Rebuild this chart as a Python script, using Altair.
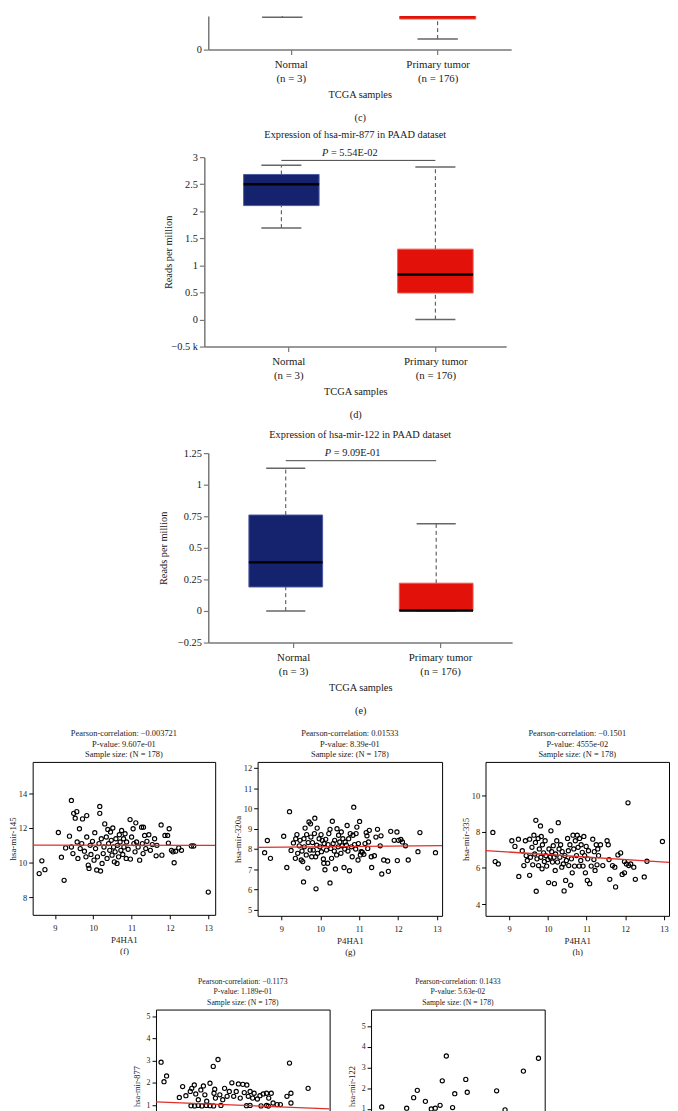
import json
import altair as alt
import pandas as pd

FONT = "Liberation Serif"
TXT = "#1a1a1a"
RED = "#e0302a"

# ---------------- box-plot data ----------------
groups = ["Normal", "Primary tumor"]
group_n = ["(n = 3)", "(n = 176)"]
box_fill = ["#15236e", "#e2120a"]
box_line = ["#4b5a9e", "#f0574c"]

# panel (c) - only lower part visible
c_lower = [76, 25]
c_q1 = [118, 72]
c_med = [140, 98]
c_q3 = [160, 130]
c_upper = [185, 210]

# panel (d) hsa-mir-877
d_lower = [1.69, 0.0]
d_q1 = [2.105, 0.49]
d_med = [2.50, 0.83]
d_q3 = [2.68, 1.30]
d_upper = [2.85, 2.82]
d_title = "Expression of hsa-mir-877 in PAAD dataset"
d_p = "5.54E-02"

# panel (e) hsa-mir-122
e_lower = [0.0, 0.0]
e_q1 = [0.19, 0.0]
e_med = [0.385, 0.004]
e_q3 = [0.76, 0.22]
e_upper = [1.13, 0.69]
e_title = "Expression of hsa-mir-122 in PAAD dataset"
e_p = "9.09E-01"

# ---------------- scatter data ----------------
f_x = [8.59, 8.66, 8.74, 9.09, 9.17, 9.24, 9.28, 9.38, 9.43, 9.43, 9.47, 9.49, 9.53, 9.57, 9.60, 9.58,
       9.64, 9.66, 9.72, 9.70, 9.77, 9.81, 9.83, 9.83, 9.87, 9.89, 9.92, 9.94, 9.98, 10.02, 10.04, 10.06,
       10.09, 10.11, 10.15, 10.17, 10.17, 10.19, 10.21, 10.23, 10.26, 10.28, 10.30, 10.34, 10.36, 10.38,
       10.40, 10.43, 10.45, 10.47, 10.49, 10.51, 10.53, 10.55, 10.57, 10.59, 10.62, 10.63, 10.66, 10.68,
       10.70, 10.72, 10.74, 10.77, 10.79, 10.80, 10.83, 10.86, 10.87, 10.91, 10.96, 10.97, 11.00, 11.04,
       11.06, 11.09, 11.11, 11.13, 11.17, 11.21, 11.26, 11.28, 11.30, 11.31, 11.34, 11.37, 11.40, 11.45,
       11.49, 11.54, 11.60, 11.64, 11.66, 11.77, 11.79, 11.87, 11.94, 11.98, 11.96, 12.04, 12.08, 12.11,
       12.15, 12.23, 12.30, 12.56, 12.62, 13.00]
f_y = [9.36, 10.10, 9.59, 11.74, 10.31, 8.97, 10.85, 11.53, 13.60, 10.90, 10.52, 12.85, 12.57, 12.95, 10.24, 11.19,
       11.96, 10.81, 12.53, 11.10, 10.66, 10.33, 12.72, 11.48, 9.85, 9.66, 11.00, 10.47, 11.23, 10.14, 11.73, 10.81,
       9.57, 10.33, 11.10, 13.25, 12.85, 9.51, 11.38, 9.95, 10.52, 10.90, 12.24, 11.48, 10.24, 11.92,
       11.10, 10.71, 11.77, 11.29, 10.43, 12.00, 10.90, 10.04, 10.62, 11.38, 9.95, 11.00, 10.33, 11.61,
       11.19, 10.71, 11.86, 10.47, 11.38, 10.90, 11.67, 10.24, 11.19, 10.77, 12.49, 10.20, 11.48, 11.96,
       11.10, 10.62, 12.30, 11.19, 10.90, 10.14, 12.05, 11.10, 10.52, 12.05, 11.57, 10.81, 11.23, 11.61,
       10.71, 11.04, 11.38, 10.39, 11.00, 12.18, 10.43, 11.57, 11.57, 11.96, 11.13, 10.71, 10.62, 9.99,
       10.66, 10.85, 10.71, 10.96, 10.96, 8.29]
f_fit_x = [8.42, 13.18]
f_fit_y = [11.01, 10.99]

g_x = [8.57, 8.64, 8.72, 9.06, 9.14, 9.21, 9.25, 9.31, 9.36, 9.37, 9.40, 9.42, 9.46, 9.48, 9.51, 9.53,
       9.55, 9.57, 9.58, 9.59, 9.61, 9.64, 9.65, 9.68, 9.69, 9.71, 9.74, 9.75, 9.76, 9.78, 9.80, 9.82,
       9.85, 9.86, 9.88, 9.89, 9.91, 9.92, 9.93, 9.97, 9.99, 10.02, 10.03, 10.05, 10.08, 10.09, 10.10,
       10.12, 10.14, 10.16, 10.19, 10.20, 10.22, 10.25, 10.25, 10.27, 10.29, 10.31, 10.33, 10.36, 10.37,
       10.39, 10.42, 10.43, 10.46, 10.47, 10.50, 10.53, 10.54, 10.56, 10.58, 10.61, 10.63, 10.64, 10.67,
       10.69, 10.71, 10.73, 10.75, 10.77, 10.80, 10.82, 10.84, 10.86, 10.88, 10.91, 10.92, 10.94, 10.97,
       10.98, 11.01, 11.03, 11.05, 11.08, 11.12, 11.15, 11.18, 11.20, 11.22, 11.24, 11.26, 11.31, 11.32,
       11.39, 11.43, 11.47, 11.54, 11.56, 11.58, 11.63, 11.73, 11.75, 11.81, 11.90, 11.97, 11.98, 12.01,
       12.07, 12.11, 12.19, 12.26, 12.51, 12.56, 12.96]
g_y = [7.82, 8.42, 7.54, 8.63, 7.09, 9.84, 7.93, 8.30, 7.54, 8.51, 8.71, 7.79, 8.16, 8.43, 7.46, 7.90,
       7.38, 6.38, 8.51, 8.11, 9.03, 7.71, 8.71, 7.06, 8.32, 9.33, 7.95, 9.24, 8.59, 7.62, 8.32, 7.95,
       8.76, 9.52, 7.62, 6.04, 8.19, 9.03, 7.79, 8.51, 8.11, 8.71, 7.87, 8.43, 7.51, 7.30, 8.27,
       6.98, 8.48, 7.95, 7.30, 8.22, 8.76, 6.33, 8.97, 8.03, 7.54, 9.37, 8.27, 7.90, 8.43,
       7.02, 7.71, 9.00, 8.11, 8.68, 8.35, 7.79, 8.84, 8.16, 8.51, 7.09, 8.00, 8.35, 8.19,
       9.16, 7.90, 8.51, 6.93, 8.76, 8.11, 7.62, 8.68, 10.06, 8.22, 8.00, 8.76, 9.08, 7.46,
       8.27, 9.36, 7.71, 7.87, 7.84, 7.74, 8.27, 8.81, 8.65, 8.03, 8.35, 8.92, 7.62, 7.09,
       7.67, 8.59, 8.97, 8.16, 8.65, 6.77, 7.46, 7.41, 6.90, 8.87, 8.43, 8.84, 7.43, 8.43,
       8.47, 8.35, 8.16, 7.46, 7.87, 8.81, 7.82]
g_fit_x = [8.39, 13.13]
g_fit_y = [8.08, 8.17]

h_x = [8.58, 8.64, 8.72, 9.07, 9.15, 9.24, 9.25, 9.34, 9.38, 9.42, 9.44, 9.47, 9.53, 9.53, 9.55, 9.59,
       9.61, 9.64, 9.66, 9.68, 9.69, 9.70, 9.72, 9.75, 9.76, 9.78, 9.81, 9.82, 9.83, 9.85, 9.86, 9.89,
       9.91, 9.93, 9.95, 9.97, 10.00, 10.02, 10.03, 10.06, 10.08, 10.10, 10.12, 10.14, 10.16, 10.17,
       10.19, 10.20, 10.23, 10.25, 10.27, 10.29, 10.31, 10.33, 10.36, 10.37, 10.40, 10.42, 10.44, 10.46,
       10.48, 10.51, 10.53, 10.54, 10.57, 10.59, 10.61, 10.63, 10.65, 10.67, 10.69, 10.71, 10.74, 10.76,
       10.78, 10.81, 10.82, 10.85, 10.86, 10.89, 10.91, 10.93, 10.95, 10.97, 10.99, 11.02, 11.03, 11.05,
       11.08, 11.12, 11.16, 11.19, 11.20, 11.22, 11.25, 11.27, 11.29, 11.31, 11.36, 11.42, 11.53, 11.56,
       11.58, 11.60, 11.67, 11.73, 11.75, 11.81, 11.88, 11.92, 11.98, 11.98, 12.03, 12.07, 12.09, 12.14,
       12.22, 12.26, 12.49, 12.56, 12.96]
h_y = [7.96, 6.35, 6.22, 7.50, 7.19, 7.59, 5.53, 6.95, 6.13, 7.50, 6.68, 6.41, 5.59, 7.59, 6.59, 7.14,
       6.17, 7.81, 6.77, 7.41, 8.63, 4.71, 6.50, 7.63, 6.13, 7.05, 8.32, 6.59, 7.74, 5.95, 7.28, 6.83,
       6.35, 7.50, 6.68, 6.10, 6.46, 5.19, 7.05, 6.59, 8.05, 6.90, 6.32, 7.23, 6.59, 5.13,
       5.86, 6.77, 7.50, 6.32, 8.50, 7.05, 6.59, 7.28, 6.04, 6.90, 6.22, 4.73, 6.68, 5.31,
       6.41, 7.63, 6.95, 6.13, 7.28, 5.04, 6.50, 5.73, 7.81, 7.05, 6.10, 7.50, 6.68, 7.81,
       7.14, 6.10, 7.63, 6.41, 7.28, 6.86, 6.10, 7.74, 6.68, 5.73, 7.19, 5.31, 6.50, 6.95,
       5.13, 6.10, 7.59, 6.46, 6.90, 5.86, 7.28, 6.17, 7.05, 6.68, 7.28, 6.13, 7.50, 7.28,
       6.46, 5.37, 6.13, 6.04, 4.95, 6.72, 6.83, 5.64, 6.35, 5.73, 6.22, 9.60, 6.13, 6.22,
       6.04, 5.37, 5.50, 6.37, 7.46]
h_fit_x = [8.39, 13.13]
h_fit_y = [6.96, 6.30]

i_x = [8.56, 8.64, 8.71, 9.06, 9.15, 9.24, 9.36, 9.40, 9.47, 9.51, 9.58, 9.65, 9.72, 9.76, 9.81, 9.90,
       9.99, 10.01, 10.03, 10.12, 10.05, 10.17, 10.25, 10.30, 10.37, 10.43, 10.50, 10.55, 10.62, 10.68,
       10.73, 10.80, 10.84, 10.91, 10.95, 11.00, 11.07, 11.11, 11.20, 11.27, 11.36, 11.45, 11.51, 11.58,
       11.63, 11.74, 11.83, 12.01, 12.08, 12.12, 12.12, 12.59, 9.38, 9.48, 9.58, 9.68, 9.80, 9.90,
       10.00, 10.20, 10.90, 11.00, 11.30, 11.45, 11.50]
i_y = [2.94, 2.06, 2.32, 1.35, 1.84, 1.43, 1.62, 1.76, 1.91, 1.51, 1.25, 1.69, 1.87, 1.47, 1.18, 1.99,
       2.75, 1.54, 1.72, 3.06, 1.32, 1.47, 1.25, 1.76, 1.40, 1.62, 2.01, 1.40, 1.62, 1.96,
       1.32, 1.94, 1.57, 1.91, 1.40, 1.62, 1.32, 1.54, 1.28, 1.43, 1.51, 1.54, 1.32, 1.54,
       1.10, 1.03, 1.03, 1.40, 2.90, 1.54, 1.10, 1.76, 0.98, 0.97, 0.99, 0.97, 0.99, 0.98,
       0.97, 0.99, 0.98, 0.99, 0.97, 0.99, 0.96]
i_fit_x = [8.42, 13.18]
i_fit_y = [1.15, 0.84]

j_x = [8.69, 9.37, 9.56, 9.66, 9.88, 10.04, 10.15, 10.28, 10.34, 10.45, 10.62, 10.68, 10.98, 11.02,
       11.82, 12.05, 12.55, 12.96]
j_y = [1.10, 1.04, 1.55, 1.90, 1.37, 1.00, 1.04, 1.18, 2.36, 3.56, 1.07, 1.74, 2.43, 1.81,
       1.88, 0.96, 2.83, 3.45]


# ---------------- helpers ----------------
def spacer(w, h):
    return alt.Chart(pd.DataFrame({"v": [0]})).mark_point(size=0, opacity=0).encode(
        x=alt.value(0), y=alt.value(0)).properties(width=w, height=h)


def box_panel(lower, q1, med, q3, upper, xdom, tickpos, ydom, yvals, width, height,
              ytitle, yext, label, title=None, pval=None, bracket_y=None, ptext_y=None,
              clip=False, ylabel_expr="format(datum.value, '.2~f')", title_offset=8):
    df = pd.DataFrame({"group": groups, "pos": [1.0, 2.0], "lower": lower, "q1": q1,
                       "med": med, "q3": q3, "upper": upper, "fill": box_fill, "line": box_line})
    xscale = alt.Scale(domain=xdom, nice=False, zero=False)
    yscale = alt.Scale(domain=ydom, nice=False, zero=False)
    lab_expr = "datum.value < 1.5 ? %s : %s" % (json.dumps([groups[0], group_n[0]]),
                                                 json.dumps([groups[1], group_n[1]]))
    xaxis = alt.Axis(values=tickpos, labelExpr=lab_expr, title=["TCGA samples", label],
                     titleLineHeight=23, labelLineHeight=14, labelFontSize=11, titleFontSize=10.5,
                     tickSize=5, labelPadding=4, titlePadding=7, domainColor="#777", domainWidth=1.5,
                     tickColor="#777", tickWidth=1.2, labelColor=TXT, titleColor=TXT, grid=False,
                     labelFont=FONT, titleFont=FONT, titleFontWeight="normal", labelAngle=0)
    yaxis_kw = dict(values=yvals, labelExpr=ylabel_expr, labelFontSize=10.5,
                    titleFontSize=10.5, tickSize=5, labelPadding=2, domainColor="#777",
                    domainWidth=1.5, tickColor="#777", tickWidth=1.2, labelColor=TXT,
                    titleColor=TXT, grid=False, labelFont=FONT, titleFont=FONT,
                    titleFontWeight="normal", titlePadding=3)
    if ytitle is None:
        yaxis = alt.Axis(title=None, **yaxis_kw)
    else:
        yaxis = alt.Axis(title=ytitle, minExtent=yext, maxExtent=yext, **yaxis_kw)

    def X(f):
        return alt.X(f + ":Q", scale=xscale, axis=xaxis)

    def Y(f):
        return alt.Y(f + ":Q", scale=yscale, axis=yaxis)

    base = alt.Chart(df).transform_calculate(
        blo="datum.pos - 0.245", bhi="datum.pos + 0.245",
        clo="datum.pos - 0.13", chi="datum.pos + 0.13")
    wl = base.mark_rule(strokeDash=[4, 3], color="#444", strokeWidth=1, clip=clip).encode(
        x=X("pos"), y=Y("lower"), y2="q1:Q")
    wu = base.mark_rule(strokeDash=[4, 3], color="#444", strokeWidth=1, clip=clip).encode(
        x=X("pos"), y=Y("q3"), y2="upper:Q")
    cl = base.mark_rule(color="#666", strokeWidth=1.5, clip=clip).encode(
        x=X("clo"), x2="chi:Q", y=Y("lower"))
    cu = base.mark_rule(color="#666", strokeWidth=1.5, clip=clip).encode(
        x=X("clo"), x2="chi:Q", y=Y("upper"))
    box = base.mark_rect(strokeWidth=1, clip=clip).encode(
        x=X("blo"), x2="bhi:Q", y=Y("q1"), y2="q3:Q",
        fill=alt.Fill("fill:N", scale=None), stroke=alt.Stroke("line:N", scale=None))
    md = base.mark_rule(color="black", strokeWidth=2.5, clip=clip).encode(
        x=X("blo"), x2="bhi:Q", y=Y("med"))
    layers = [wl, wu, cl, cu, box, md]
    if pval is not None:
        bdf = pd.DataFrame({"x1": [1.0], "x2": [2.0], "y": [bracket_y], "tx": [1.45],
                            "ty": [ptext_y], "rest": ["= " + pval]})
        layers.append(alt.Chart(bdf).mark_rule(color="#444", strokeWidth=1).encode(
            x=X("x1"), x2="x2:Q", y=Y("y")))
        layers.append(alt.Chart(bdf).mark_text(text="P", font=FONT, fontSize=10.5, fontStyle="italic",
                                               align="left", baseline="middle", dx=-29, color=TXT).encode(
            x=X("tx"), y=Y("ty")))
        layers.append(alt.Chart(bdf).mark_text(font=FONT, fontSize=10.5, align="left",
                                               baseline="middle", dx=-20, color=TXT).encode(
            x=X("tx"), y=Y("ty"), text="rest:N"))
    ch = alt.layer(*layers).properties(width=width, height=height)
    if title is not None:
        ch = ch.properties(title=alt.TitleParams(title, font=FONT, fontSize=10.5, fontWeight="normal",
                                                 color=TXT, offset=title_offset, anchor="middle"))
    return ch


def scatter(xs, ys, fit_x, fit_y, lines, ytitle, label, width, height, xdom, ydom, yvals,
            fs=8.5, tfs=8.5, lh=11):
    df = pd.DataFrame({"x": xs, "y": ys})
    xscale = alt.Scale(domain=xdom, nice=False, zero=False)
    yscale = alt.Scale(domain=ydom, nice=False, zero=False)
    common = dict(labelFont=FONT, titleFont=FONT, titleFontWeight="normal", labelColor=TXT,
                  titleColor=TXT, grid=False, domain=False, tickColor="black", tickSize=4,
                  tickWidth=1, labelFontSize=fs, titleFontSize=fs + 0.5)
    xaxis = alt.Axis(values=[9, 10, 11, 12, 13], title=["P4HA1", label], titleLineHeight=11,
                     labelPadding=5, titlePadding=4, **common)
    yaxis = alt.Axis(values=yvals, title=ytitle, minExtent=13, maxExtent=13, labelPadding=2,
                     titlePadding=2, **common)
    pts = alt.Chart(df).mark_point(filled=False, color="black", size=18, strokeWidth=1.15,
                                   opacity=1, clip=True).encode(
        x=alt.X("x:Q", scale=xscale, axis=xaxis), y=alt.Y("y:Q", scale=yscale, axis=yaxis))
    layers = [pts]
    if fit_x is not None:
        fdf = pd.DataFrame({"x": fit_x, "y": fit_y})
        layers.append(alt.Chart(fdf).mark_line(color=RED, strokeWidth=1.3, clip=True).encode(
            x=alt.X("x:Q", scale=xscale, axis=xaxis), y=alt.Y("y:Q", scale=yscale, axis=yaxis)))
    return alt.layer(*layers).properties(
        width=width, height=height,
        view=alt.ViewBackground(stroke="black", strokeWidth=1),
        title=alt.TitleParams(lines, font=FONT, fontSize=tfs, fontWeight="normal", color=TXT,
                              lineHeight=lh, offset=3, anchor="middle"))


# ---------------- panels ----------------
pc = box_panel(c_lower, c_q1, c_med, c_q3, c_upper, [0.524, 2.473], [1.055, 2.0], [0, 79], [0],
               307, 34, None, None, "(c)", clip=True)
pd_ = box_panel(d_lower, d_q1, d_med, d_q3, d_upper, [0.5, 2.46], [1.045, 2.0], [-0.5, 3],
                [-0.5, 0, 0.5, 1, 1.5, 2, 2.5, 3], 306, 192, "Reads per million", 28, "(d)",
                title=d_title, pval=d_p, bracket_y=2.94, ptext_y=3.07,
                ylabel_expr="datum.value == -0.5 ? '\u22120.5 k' : format(datum.value, '.2~f')")
pe = box_panel(e_lower, e_q1, e_med, e_q3, e_upper, [0.485, 2.505], [1.049, 2.026], [-0.25, 1.25],
               [-0.25, 0, 0.25, 0.5, 0.75, 1, 1.25], 308, 192, "Reads per million", 37, "(e)",
               title=e_title, pval=e_p, bracket_y=1.19, ptext_y=1.25)

sf = scatter(f_x, f_y, f_fit_x, f_fit_y,
             ["Pearson-correlation: \u22120.003721", "P-value: 9.607e-01", "Sample size: (N = 178)"],
             "hsa-mir-145", "(f)", 185, 155, [8.42, 13.18], [6.97, 15.83], [8, 10, 12, 14])
sg = scatter(g_x, g_y, g_fit_x, g_fit_y,
             ["Pearson-correlation: 0.01533", "P-value: 8.39e-01", "Sample size: (N = 178)"],
             "hsa-mir-320a", "(g)", 187, 156, [8.39, 13.13], [4.71, 12.29], [5, 6, 7, 8, 9, 10, 11, 12])
sh = scatter(h_x, h_y, h_fit_x, h_fit_y,
             ["Pearson-correlation: \u22120.1501", "P-value: 4555e-02", "Sample size: (N = 178)"],
             "hsa-mir-335", "(h)", 186, 156, [8.39, 13.13], [3.35, 11.86], [4, 6, 8, 10])
si = scatter(i_x, i_y, i_fit_x, i_fit_y,
             ["Pearson-correlation: \u22120.1173", "P-value: 1.189e-01", "Sample size: (N = 178)"],
             "hsa-mir-877", "(i)", 176, 155, [8.42, 13.18], [-1.58, 5.31], [0, 1, 2, 3, 4, 5],
             fs=8, tfs=7.8, lh=10.5)
sj = scatter(j_x, j_y, None, None,
             ["Pearson-correlation: 0.1433", "P-value: 5.63e-02", "Sample size: (N = 178)"],
             "hsa-mir-122", "(j)", 176, 155, [8.40, 13.13], [-1.58, 5.80], [0, 1, 2, 3, 4, 5],
             fs=8, tfs=7.8, lh=10.5)

# rows are laid out "flush" (plot areas only); gaps between plot tops are set by spacers
FL = "flush"
rowC = alt.hconcat(spacer(202, 1), pc, spacing=0, bounds=FL)
rowD = alt.hconcat(spacer(198, 1), pd_, spacing=0, bounds=FL)
rowE = alt.hconcat(spacer(202, 1), pe, spacing=0, bounds=FL)
rowFGH = alt.hconcat(spacer(24, 1), sf, spacer(43, 1), sg, spacer(44, 1), sh, spacing=0, bounds=FL)
rowIJ = alt.hconcat(spacer(149, 1), si, spacer(42, 1), sj, spacing=0, bounds=FL)

chart = alt.vconcat(rowC, spacer(1, 143), rowD, spacer(1, 300), rowE, spacer(1, 313), rowFGH,
                    spacer(1, 251), rowIJ, spacing=0, bounds=FL).properties(
    padding=0
).configure(font=FONT, background="white").configure_view(stroke=None)

chart.save("out.html", embed_options={"renderer": "svg", "actions": False})
